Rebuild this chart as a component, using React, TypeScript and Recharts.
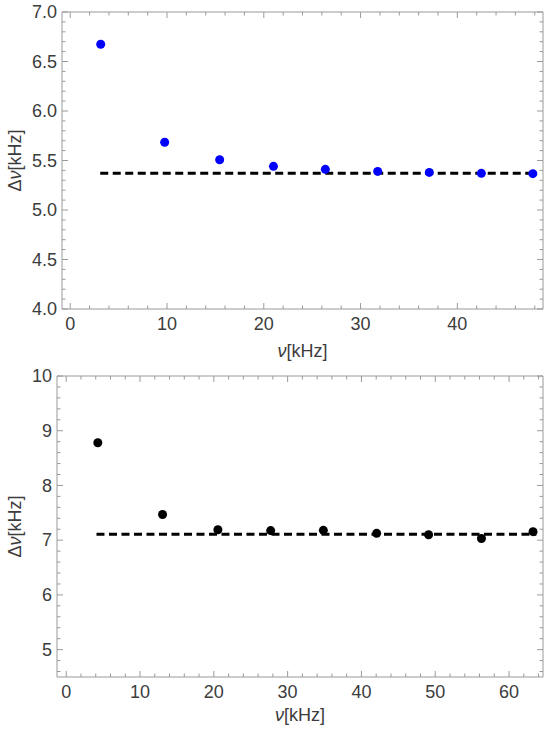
import React from "react";
import { ScatterChart, Scatter, XAxis, YAxis } from "recharts";

// 上图：蓝点
const TOP_NU = [3.15, 9.76, 15.44, 21.0, 26.36, 31.77, 37.1, 42.48, 47.8];
const TOP_DNU = [6.674, 5.684, 5.508, 5.441, 5.411, 5.39, 5.38, 5.37, 5.367];
const TOP_FIT_X = [3.1, 48.3];
const TOP_FIT_Y = 5.37;
const TOP_X_TICKS = [0, 10, 20, 30, 40];
const TOP_Y_TICKS = [4.0, 4.5, 5.0, 5.5, 6.0, 6.5, 7.0];

// 下图：黑点
const BOT_NU = [4.28, 13.05, 20.55, 27.7, 34.84, 42.06, 49.1, 56.26, 63.25];
const BOT_DNU = [8.78, 7.47, 7.19, 7.175, 7.18, 7.125, 7.1, 7.03, 7.156];
const BOT_FIT_X = [4.1, 63.7];
const BOT_FIT_Y = 7.11;
const BOT_X_TICKS = [0, 10, 20, 30, 40, 50, 60];
const BOT_Y_TICKS = [5, 6, 7, 8, 9, 10];

const FRAME = "#9a9a9a";
const TEXT = "#3c3c3c";
const FONT = "'Liberation Sans', Arial, sans-serif";
const FS = 18;

/** 主刻度之间补小刻度（按 step 对齐） */
function withMinor(step: number, lo: number, hi: number) {
  const out: number[] = [];
  const start = Math.ceil(lo / step - 1e-9);
  const end = Math.floor(hi / step + 1e-9);
  for (let i = start; i <= end; i++) out.push(+(i * step).toFixed(4));
  return out;
}

type Side = "bottom" | "top" | "left" | "right";

function makeTick(side: Side, major: number[], fmt?: (v: number) => string) {
  return (p: any) => {
    const { x, y, payload } = p;
    const v = payload.value;
    const isMajor = major.some((m) => Math.abs(m - v) < 1e-6);
    const len = isMajor ? 6 : 3.5;
    let line;
    if (side === "bottom") line = <line x1={x} x2={x} y1={y} y2={y - len} />;
    else if (side === "top") line = <line x1={x} x2={x} y1={y} y2={y + len} />;
    else if (side === "left") line = <line x1={x} x2={x + len} y1={y} y2={y} />;
    else line = <line x1={x} x2={x - len} y1={y} y2={y} />;
    let label = null;
    if (isMajor && fmt && side === "bottom")
      label = (
        <text x={x} y={y + 21} textAnchor="middle" fill={TEXT} fontSize={FS} fontFamily={FONT}>
          {fmt(v)}
        </text>
      );
    if (isMajor && fmt && side === "left")
      label = (
        <text x={x - 5} y={y} dy="0.35em" textAnchor="end" fill={TEXT} fontSize={FS} fontFamily={FONT}>
          {fmt(v)}
        </text>
      );
    return (
      <g>
        <g stroke={FRAME} strokeWidth={1}>{line}</g>
        {label}
      </g>
    );
  };
}

const xTitle = (offset: number) => (props: any) => {
  const vb = props.viewBox;
  return (
    <text
      x={vb.x + vb.width / 2}
      y={vb.y + offset}
      textAnchor="middle"
      dominantBaseline="central"
      fill={TEXT}
      fontSize={FS}
      fontFamily={FONT}
    >
      <tspan fontStyle="italic">ν</tspan>[kHz]
    </text>
  );
};

const yTitle = (cx: number) => (props: any) => {
  const vb = props.viewBox;
  const cy = vb.y + vb.height / 2;
  return (
    <text
      x={cx}
      y={cy}
      transform={`rotate(-90 ${cx} ${cy})`}
      textAnchor="middle"
      dominantBaseline="central"
      fill={TEXT}
      fontSize={FS}
      fontFamily={FONT}
    >
      Δ<tspan fontStyle="italic">ν</tspan>[kHz]
    </text>
  );
};

interface PanelProps {
  nu: number[];
  dnu: number[];
  fitX: number[];
  fitY: number;
  xDomain: [number, number];
  yDomain: [number, number];
  xMajor: number[];
  xMinorStep: number;
  yMajor: number[];
  yMinorStep: number;
  yFmt: (v: number) => string;
  dotColor: string;
  top: number;
  height: number;
  marginTop: number;
  yAxisWidth: number;
  xTitleOffset: number;
}

function Panel(p: PanelProps) {
  const points = p.nu.map((x, i) => ({ x, y: p.dnu[i] }));
  const fit = p.fitX.map((x) => ({ x, y: p.fitY }));
  const xTicks = withMinor(p.xMinorStep, p.xDomain[0], p.xDomain[1]);
  const yTicks = withMinor(p.yMinorStep, p.yDomain[0], p.yDomain[1]);
  const xAxisCommon = {
    type: "number" as const,
    dataKey: "x",
    domain: p.xDomain,
    allowDataOverflow: true,
    ticks: xTicks,
    interval: 0 as const,
    tickSize: 0,
    tickMargin: 0,
    tickLine: false,
    axisLine: { stroke: FRAME, strokeWidth: 1 },
  };
  const yAxisCommon = {
    type: "number" as const,
    dataKey: "y",
    domain: p.yDomain,
    allowDataOverflow: true,
    ticks: yTicks,
    interval: 0 as const,
    tickSize: 0,
    tickMargin: 0,
    tickLine: false,
    axisLine: { stroke: FRAME, strokeWidth: 1 },
  };
  return (
    <div style={{ position: "absolute", left: 0, top: p.top }}>
      <ScatterChart
        width={550}
        height={p.height}
        margin={{ top: p.marginTop - 1, right: 6, bottom: 0, left: 0 }}
      >
        <XAxis
          {...xAxisCommon}
          xAxisId="b"
          orientation="bottom"
          height={59}
          tick={makeTick("bottom", p.xMajor, (v) => String(v))}
          label={{ content: xTitle(p.xTitleOffset) }}
        />
        <XAxis {...xAxisCommon} xAxisId="t" orientation="top" height={1} tick={makeTick("top", p.xMajor)} />
        <YAxis
          {...yAxisCommon}
          yAxisId="l"
          orientation="left"
          width={p.yAxisWidth}
          tick={makeTick("left", p.yMajor, p.yFmt)}
          label={{ content: yTitle(15) }}
        />
        <YAxis {...yAxisCommon} yAxisId="r" orientation="right" width={1} tick={makeTick("right", p.yMajor)} />
        {/* 给上、右两条边框轴挂一个不可见序列，保证它们被绘制 */}
        <Scatter
          data={points}
          xAxisId="t"
          yAxisId="r"
          isAnimationActive={false}
          shape={() => <g />}
        />
        <Scatter
          data={fit}
          xAxisId="b"
          yAxisId="l"
          isAnimationActive={false}
          line={{ stroke: "#000", strokeWidth: 3, strokeDasharray: "8 4.5" }}
          shape={() => <g />}
        />
        <Scatter
          data={points}
          xAxisId="b"
          yAxisId="l"
          isAnimationActive={false}
          shape={(s: any) => <circle cx={s.cx} cy={s.cy} r={4.5} fill={p.dotColor} />}
        />
      </ScatterChart>
    </div>
  );
}

export default function App() {
  return (
    <div style={{ position: "absolute", left: 0, top: 0, width: 550, height: 736, background: "#fff" }}>
      <Panel
        nu={TOP_NU}
        dnu={TOP_DNU}
        fitX={TOP_FIT_X}
        fitY={TOP_FIT_Y}
        xDomain={[-0.85, 48.85]}
        yDomain={[4, 7]}
        xMajor={TOP_X_TICKS}
        xMinorStep={2}
        yMajor={TOP_Y_TICKS}
        yMinorStep={0.1}
        yFmt={(v) => v.toFixed(1)}
        dotColor="#0000ff"
        top={0}
        height={368}
        marginTop={12}
        yAxisWidth={62}
        xTitleOffset={42}
      />
      <Panel
        nu={BOT_NU}
        dnu={BOT_DNU}
        fitX={BOT_FIT_X}
        fitY={BOT_FIT_Y}
        xDomain={[-1.25, 64.6]}
        yDomain={[4.5, 10]}
        xMajor={BOT_X_TICKS}
        xMinorStep={2}
        yMajor={BOT_Y_TICKS}
        yMinorStep={0.2}
        yFmt={(v) => String(v)}
        dotColor="#000000"
        top={356}
        height={380}
        marginTop={20}
        yAxisWidth={57}
        xTitleOffset={38}
      />
    </div>
  );
}
